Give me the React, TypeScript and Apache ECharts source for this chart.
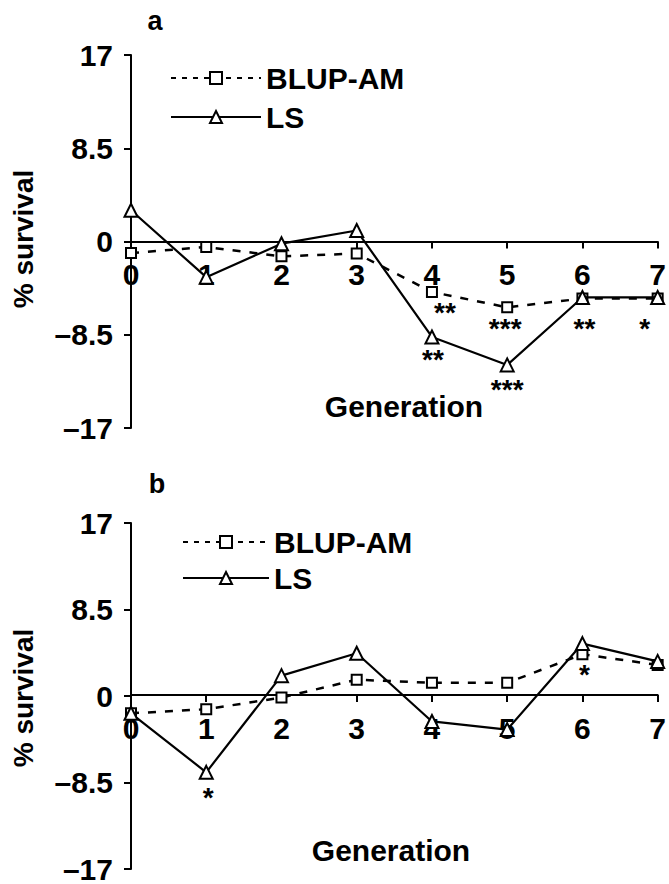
import React, { useEffect, useRef } from 'react';
import * as echarts from 'echarts';

const generations = ['0', '1', '2', '3', '4', '5', '6', '7'];
const seriesNames = ['BLUP-AM', 'LS'];
const panelLabels = ['a', 'b'];
const yAxisTitle = '% survival';
const xAxisTitle = 'Generation';

const blupA = [-1.05, -0.5, -1.35, -1.1, -4.6, -6.0, -5.2, -5.2];
const lsA = [2.85, -3.25, -0.2, 1.0, -8.7, -11.25, -5.1, -5.1];
const blupB = [-1.7, -1.3, -0.15, 1.6, 1.3, 1.3, 4.1, 3.05];
const lsB = [-1.7, -7.5, 2.0, 4.2, -2.5, -3.3, 5.15, 3.4];

const sigBlupA = ['', '', '', '', '**', '***', '**', '*'];
const sigLsA = ['', '', '', '', '**', '***', '', ''];
const sigBlupB = ['', '', '', '', '', '', '*', ''];
const sigLsB = ['', '*', '', '', '', '', '', ''];

const FONT = '"Liberation Sans", Arial, Helvetica, sans-serif';

const GRID_A = { left: 131, right: 10, top: 55, height: 373 };
const GRID_B = { left: 131, right: 10, top: 523, height: 348 };

// label offsets (dx, dy of asterisk visual centre relative to point)
const offBlupA: Record<number, [number, number]> = { 4: [13, 15], 5: [-2, 15], 6: [2, 24], 7: [-13, 24] };
const offLsA: Record<number, [number, number]> = { 4: [1, 17], 5: [0, 19] };
const offBlupB: Record<number, [number, number]> = { 6: [2, 14] };
const offLsB: Record<number, [number, number]> = { 1: [2, 19] };

function buildData(values: number[], sig: string[], offs: Record<number, [number, number]>) {
  return values.map((v, i) => {
    if (!sig[i]) return v;
    const o = offs[i] || [0, 18];
    return {
      value: v,
      label: {
        show: true,
        formatter: sig[i],
        position: 'inside',
        offset: [o[0], o[1] + 6],
        fontSize: 28,
        fontWeight: 'bold',
        fontFamily: FONT,
        color: '#000',
      },
    };
  });
}

function makeSeries(name: string, values: number[], sig: string[], offs: Record<number, [number, number]>, axisIndex: number, dashed: boolean) {
  return {
    type: 'line',
    name,
    xAxisIndex: axisIndex,
    yAxisIndex: axisIndex,
    data: buildData(values, sig, offs),
    symbol: dashed ? 'emptyRect' : 'emptyTriangle',
    symbolSize: dashed ? 10 : 13,
    showAllSymbol: true,
    lineStyle: { color: '#000', width: dashed ? 2.5 : 2.2, type: dashed ? [8, 9] : 'solid' },
    itemStyle: { color: '#000', borderColor: '#000', borderWidth: 2 },
    emphasis: { disabled: true },
    label: { show: false },
    z: dashed ? 2 : 3,
  };
}

// x axis sits at value 0, i.e. the middle of the symmetric y range
function makeX(gridIndex: number, gridHeight: number) {
  return {
    type: 'category',
    gridIndex,
    data: generations,
    boundaryGap: false,
    position: 'bottom',
    offset: -gridHeight / 2,
    axisLine: { onZero: false, lineStyle: { color: '#000', width: 2 } },
    axisTick: { show: true, length: 7, interval: 0, lineStyle: { color: '#000', width: 2 } },
    axisLabel: {
      interval: 0,
      margin: 18,
      color: '#000',
      fontSize: 30,
      fontWeight: 'bold',
      fontFamily: FONT,
    },
    splitLine: { show: false },
  };
}

function makeY(gridIndex: number) {
  return {
    type: 'value',
    gridIndex,
    min: -17,
    max: 17,
    interval: 8.5,
    axisLine: { show: true, onZero: false, lineStyle: { color: '#000', width: 2 } },
    axisTick: { show: true, length: 7, lineStyle: { color: '#000', width: 2 } },
    axisLabel: {
      margin: 18,
      color: '#000',
      fontSize: 30,
      fontWeight: 'bold',
      fontFamily: FONT,
      formatter: (v: number) => String(v).replace('-', '\u2013'),
    },
    splitLine: { show: false },
  };
}

function makeLegend(left: number, top: number, itemWidth: number, itemGap: number) {
  return {
    orient: 'vertical',
    left,
    top,
    itemWidth,
    itemHeight: 15,
    itemGap,
    selectedMode: false,
    data: [
      { name: seriesNames[0], lineStyle: { type: [5, 6], width: 2 } },
      { name: seriesNames[1] },
    ],
    textStyle: { color: '#000', fontSize: 30, fontWeight: 'bold', fontFamily: FONT, lineHeight: 30 },
  };
}

function txt(text: string, x: number, y: number, size: number, rotation = 0) {
  return {
    type: 'text',
    x,
    y,
    rotation,
    style: {
      text,
      fill: '#000',
      fontSize: size,
      fontWeight: 'bold',
      fontFamily: FONT,
      align: 'center',
      verticalAlign: 'middle',
    },
  };
}

export default function App() {
  const ref = useRef<HTMLDivElement>(null);
  useEffect(() => {
    if (!ref.current) return;
    const chart = echarts.init(ref.current, null, { renderer: 'svg' });
    chart.setOption({
      animation: false,
      backgroundColor: '#fff',
      grid: [GRID_A, GRID_B],
      xAxis: [makeX(0, GRID_A.height), makeX(1, GRID_B.height)],
      yAxis: [makeY(0), makeY(1)],
      legend: [makeLegend(165, 58, 90, 9), makeLegend(177, 522, 86, 6)],
      series: [
        makeSeries(seriesNames[0], blupA, sigBlupA, offBlupA, 0, true),
        makeSeries(seriesNames[1], lsA, sigLsA, offLsA, 0, false),
        makeSeries(seriesNames[0], blupB, sigBlupB, offBlupB, 1, true),
        makeSeries(seriesNames[1], lsB, sigLsB, offLsB, 1, false),
      ],
      graphic: [
        txt(panelLabels[0], 155, 21, 27),
        txt(panelLabels[1], 157, 484, 27),
        txt(yAxisTitle, 23, 239, 28, Math.PI / 2),
        txt(yAxisTitle, 23, 698, 28, Math.PI / 2),
        txt(xAxisTitle, 404, 406, 30),
        txt(xAxisTitle, 391, 850, 30),
      ],
    });
    return () => chart.dispose();
  }, []);
  return (
    <div
      ref={ref}
      style={{ position: 'fixed', left: 0, top: 0, width: 669, height: 884, background: '#fff' }}
    />
  );
}
